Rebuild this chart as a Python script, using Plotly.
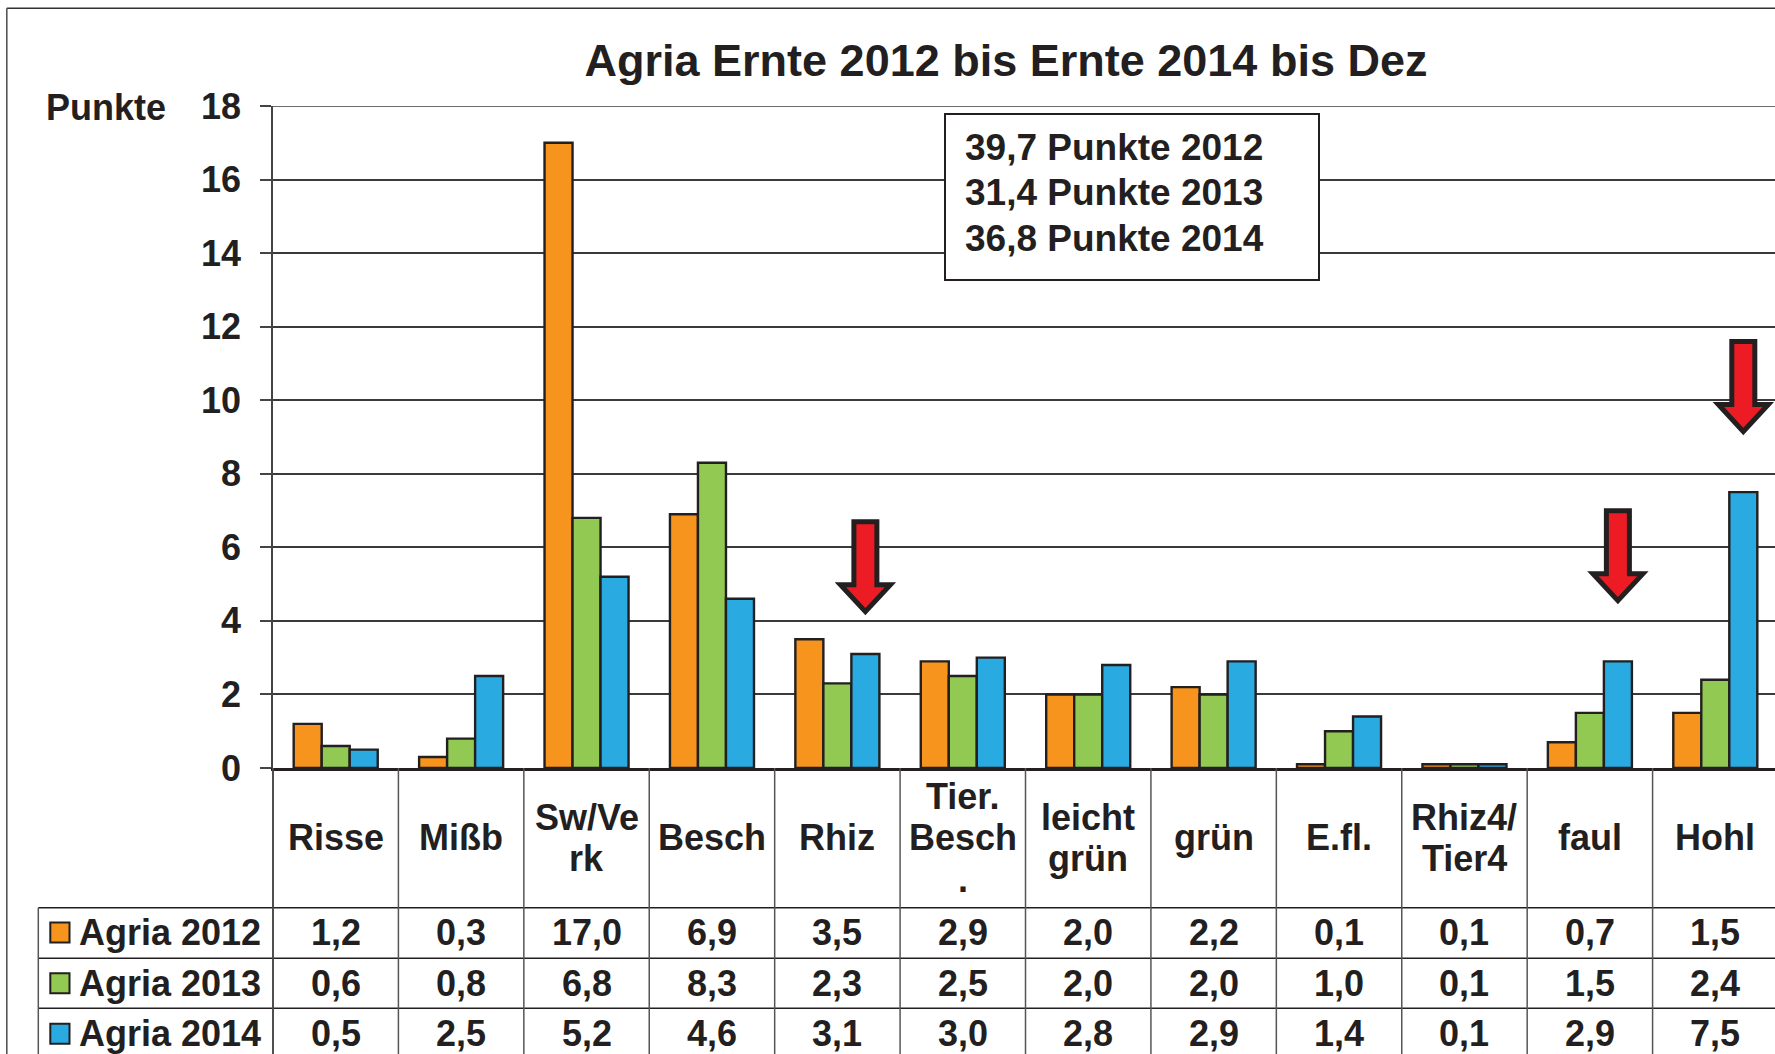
import plotly.graph_objects as go

# ---------------- data ----------------
categories = ["Risse", "Mißb", "Sw/Ve<br>rk", "Besch", "Rhiz", "Tier.<br>Besch<br>.",
              "leicht<br>grün", "grün", "E.fl.", "Rhiz4/<br>Tier4", "faul", "Hohl"]
series_names = ["Agria 2012", "Agria 2013", "Agria 2014"]
agria_2012 = [1.2, 0.3, 17.0, 6.9, 3.5, 2.9, 2.0, 2.2, 0.1, 0.1, 0.7, 1.5]
agria_2013 = [0.6, 0.8, 6.8, 8.3, 2.3, 2.5, 2.0, 2.0, 1.0, 0.1, 1.5, 2.4]
agria_2014 = [0.5, 2.5, 5.2, 4.6, 3.1, 3.0, 2.8, 2.9, 1.4, 0.1, 2.9, 7.5]
total_points = ["39,7", "31,4", "36,8"]
total_years = ["2012", "2013", "2014"]
y_ticks = [0, 2, 4, 6, 8, 10, 12, 14, 16, 18]
arrow_categories = ["Rhiz", "faul", "Hohl"]
arrow_tip_values = [4.25, 4.55, 9.15]

# ---------------- style ----------------
colors = ["#F7941D", "#92C953", "#29ABE2"]
outline = "#231F20"
grid = "#3a3a3a"
FONT = "Liberation Sans, Arial, sans-serif"
W, H = 1775, 1054
ML, MT, MB = 273, 106, 286
PW, PH = W - ML, H - MT - MB
XR = [-0.5, 11.476]
BARGAP = 0.33

def px2paper_x(px):
    return (px - ML) / PW

def px2paper_y(py):
    return (MT + PH - py) / PH

def cat2paper_x(c):
    return (c - XR[0]) / (XR[1] - XR[0])

series = [agria_2012, agria_2013, agria_2014]
xidx = list(range(len(categories)))

fig = go.Figure()
for name, vals, col in zip(series_names, series, colors):
    fig.add_trace(go.Bar(
        x=xidx, y=vals, name=name,
        marker=dict(color=col, line=dict(color=outline, width=2.4)),
        showlegend=False, hoverinfo="skip",
    ))

shapes = []
annotations = []
bold = dict(family=FONT, size=36, color=outline, weight="bold")

# outer frame (left + top)
shapes.append(dict(type="line", xref="paper", yref="paper",
                   x0=px2paper_x(6.8), x1=px2paper_x(W + 20), y0=px2paper_y(8.3), y1=px2paper_y(8.3),
                   line=dict(color="#333", width=1.6)))
shapes.append(dict(type="line", xref="paper", yref="paper",
                   x0=px2paper_x(6.8), x1=px2paper_x(6.8), y0=px2paper_y(8.3), y1=px2paper_y(H + 20),
                   line=dict(color="#555", width=1.6)))

# top gridline at the axis maximum
shapes.append(dict(type="line", xref="paper", yref="y", x0=0, x1=1, y0=y_ticks[-1], y1=y_ticks[-1],
                   line=dict(color=grid, width=1.5), layer="below"))

# table grid
row_lines = [907.7, 958.3, 1008.3]
row_centers = [932.5, 983.3, 1033.8]
table_left = 38.3
for ry in row_lines:
    shapes.append(dict(type="line", xref="paper", yref="paper",
                       x0=px2paper_x(table_left), x1=1.02, y0=px2paper_y(ry), y1=px2paper_y(ry),
                       line=dict(color=outline, width=1.6)))
shapes.append(dict(type="line", xref="paper", yref="paper",
                   x0=px2paper_x(table_left), x1=px2paper_x(table_left),
                   y0=px2paper_y(row_lines[0]), y1=px2paper_y(H + 20),
                   line=dict(color="#555", width=1.5)))
for b in range(0, len(categories)):
    shapes.append(dict(type="line", xref="paper", yref="paper",
                       x0=cat2paper_x(b - 0.5), x1=cat2paper_x(b - 0.5),
                       y0=0, y1=px2paper_y(H + 20),
                       line=dict(color="#555", width=1.5)))

# header labels (category names)
header_center = 838
line_step = 41.5
for i, lab in enumerate(categories):
    parts = lab.split("<br>")
    n = len(parts)
    for k, p in enumerate(parts):
        cy = header_center + (k - (n - 1) / 2) * line_step
        annotations.append(dict(x=i, xref="x", y=px2paper_y(cy), yref="paper",
                                text=p, showarrow=False, font=bold,
                                xanchor="center", yanchor="middle"))

# values rows + legend keys
for r, (name, vals, col) in enumerate(zip(series_names, series, colors)):
    cy = row_centers[r]
    for i, v in enumerate(vals):
        annotations.append(dict(x=i, xref="x", y=px2paper_y(cy), yref="paper",
                                text=f"{v:.1f}".replace(".", ","), showarrow=False, font=bold,
                                xanchor="center", yanchor="middle"))
    shapes.append(dict(type="rect", xref="paper", yref="paper",
                       x0=px2paper_x(50.3), x1=px2paper_x(69.5),
                       y0=px2paper_y(cy - 10), y1=px2paper_y(cy + 10),
                       fillcolor=col, line=dict(color=outline, width=2)))
    annotations.append(dict(x=px2paper_x(77), xref="paper", y=px2paper_y(cy), yref="paper",
                            text=name, showarrow=False, font=bold,
                            xanchor="left", yanchor="middle"))

# y-axis continuation down through table
shapes.append(dict(type="line", xref="paper", yref="paper", x0=0, x1=0,
                   y0=0, y1=px2paper_y(H + 20), line=dict(color="#444", width=1.6)))

# Punkte label
annotations.append(dict(x=px2paper_x(106), xref="paper", y=px2paper_y(107.5), yref="paper",
                        text="Punkte", showarrow=False, font=bold,
                        xanchor="center", yanchor="middle"))

# totals box
shapes.append(dict(type="rect", xref="paper", yref="paper",
                   x0=px2paper_x(945), x1=px2paper_x(1319), y0=px2paper_y(114), y1=px2paper_y(280),
                   fillcolor="white", line=dict(color=outline, width=2), layer="above"))
box_font = dict(bold, size=37)
for k, (tp, yr) in enumerate(zip(total_points, total_years)):
    annotations.append(dict(x=px2paper_x(963), xref="paper", y=px2paper_y(147 + k * 45.5), yref="paper",
                            text=f"{tp} Punkte {yr}", showarrow=False, font=box_font,
                            xanchor="left", yanchor="middle"))

# red arrows above blue bars
blue_offset = (1 - BARGAP) / 3
arrow_path = "M -11.5 90 L 11.5 90 L 11.5 27 L 25 27 L 0 0 L -25 27 L -11.5 27 Z"
for cat, tip in zip(arrow_categories, arrow_tip_values):
    i = categories.index(cat)
    shapes.append(dict(type="path", xref="x", yref="y",
                       xsizemode="pixel", ysizemode="pixel",
                       xanchor=i + blue_offset, yanchor=tip,
                       path=arrow_path, fillcolor="#ED1C24",
                       line=dict(color=outline, width=5), layer="above"))

fig.update_layout(
    width=W, height=H,
    margin=dict(l=ML, r=0, t=MT, b=MB, pad=0),
    paper_bgcolor="white", plot_bgcolor="white",
    barmode="group", bargap=BARGAP, bargroupgap=0,
    font=dict(family=FONT, color=outline),
    title=dict(text="Agria Ernte 2012 bis Ernte 2014 bis Dez",
               font=dict(family=FONT, size=45, color=outline, weight="bold"),
               x=1006 / W, xref="container", xanchor="center",
               y=1 - 60 / H, yref="container", yanchor="middle"),
    xaxis=dict(range=XR, showticklabels=False, showgrid=False, zeroline=False,
               showline=True, linecolor=outline, linewidth=2.5, ticks=""),
    yaxis=dict(range=[0, 18], tickvals=y_ticks, showgrid=True, gridcolor=grid, gridwidth=1.5,
               zeroline=False, showline=True, linecolor="#444", linewidth=1.6,
               ticks="outside", ticklen=11, tickcolor="#444", tickwidth=1.5,
               tickfont=dict(family=FONT, size=36, color=outline, weight="bold"),
               ticklabelstandoff=12),
    shapes=shapes, annotations=annotations,
)

fig.write_html("out.html", config={"displayModeBar": False},
               post_script="document.body.style.margin='0';document.body.style.overflow='hidden';")
